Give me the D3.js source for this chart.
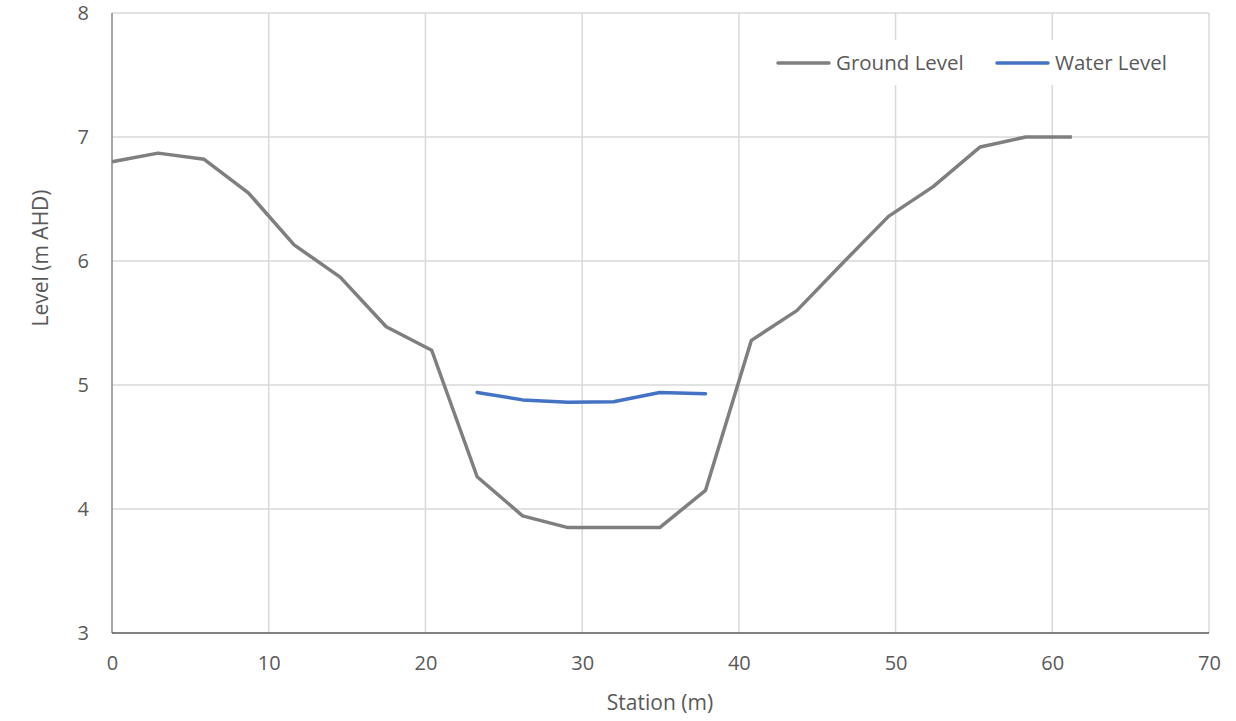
<!DOCTYPE html>
<html>
<head>
<meta charset="utf-8">
<script src="https://cdn.jsdelivr.net/npm/d3@7"></script>
<style>
  html, body { margin: 0; padding: 0; background: #fff; }
  svg text { font-family: "Open Sans", "Noto Sans", sans-serif; fill: #595959; }
</style>
</head>
<body>
<svg id="chart" width="1236" height="721"></svg>
<script>
// Cross-section survey: station along section (m) vs level (m AHD)
const groundStation = [0, 2.94, 5.88, 8.7, 11.62, 14.56, 17.5, 20.4, 23.3, 26.2, 29.1, 32.0, 34.95, 37.87, 40.8, 43.7, 46.6, 49.55, 52.4, 55.4, 58.3, 61.25];
const groundLevel   = [6.80, 6.87, 6.82, 6.55, 6.13, 5.87, 5.47, 5.28, 4.26, 3.945, 3.85, 3.85, 3.85, 4.15, 5.36, 5.60, 5.98, 6.36, 6.60, 6.92, 7.00, 7.00];
const waterStation  = [23.3, 26.2, 29.1, 32.0, 34.95, 37.87];
const waterLevel    = [4.94, 4.88, 4.86, 4.865, 4.94, 4.93];
const xTicks = [0, 10, 20, 30, 40, 50, 60, 70];
const yTicks = [3, 4, 5, 6, 7, 8];
const seriesNames = ["Ground Level", "Water Level"];
const seriesColors = ["#7f7f7f", "#4472c4"];

const svg = d3.select("#chart");
const plot = { left: 112, right: 1209, top: 13, bottom: 633 };

const x = d3.scaleLinear().domain([0, 70]).range([plot.left, plot.right]);
const y = d3.scaleLinear().domain([3, 8]).range([plot.bottom, plot.top]);

// gridlines
const grid = svg.append("g");
grid.selectAll("line.v").data(xTicks.filter(d => d > 0)).join("line")
  .attr("x1", d => x(d)).attr("x2", d => x(d))
  .attr("y1", plot.top).attr("y2", plot.bottom)
  .attr("stroke", "#d9d9d9").attr("stroke-width", 1.5);
grid.selectAll("line.h").data(yTicks.filter(d => d > 3)).join("line")
  .attr("x1", plot.left).attr("x2", plot.right)
  .attr("y1", d => y(d)).attr("y2", d => y(d))
  .attr("stroke", "#d9d9d9").attr("stroke-width", 1.5);

// axis lines
svg.append("line").attr("x1", plot.left).attr("x2", plot.left).attr("y1", plot.top).attr("y2", plot.bottom)
  .attr("stroke", "#898989").attr("stroke-width", 1.5);
svg.append("line").attr("x1", plot.left).attr("x2", plot.right).attr("y1", plot.bottom).attr("y2", plot.bottom)
  .attr("stroke", "#595959").attr("stroke-width", 1.5);

// tick labels via d3 axes
const xAxis = svg.append("g").attr("transform", `translate(0,${plot.bottom})`)
  .call(d3.axisBottom(x).tickValues(xTicks).tickSize(0).tickPadding(23).tickFormat(d3.format("d")));
const yAxis = svg.append("g").attr("transform", `translate(${plot.left},0)`)
  .call(d3.axisLeft(y).tickValues(yTicks).tickSize(0).tickPadding(23).tickFormat(d3.format("d")));
[xAxis, yAxis].forEach(g => {
  g.select(".domain").remove();
  g.selectAll("text").attr("font-size", 20).attr("fill", "#595959")
    .style("font-family", "'Open Sans', sans-serif");
});

// axis titles
svg.append("text").attr("x", 660).attr("y", 710)
  .attr("text-anchor", "middle").attr("font-size", 21).text("Station (m)");
svg.append("text").attr("transform", `translate(48,258) rotate(-90)`)
  .attr("text-anchor", "middle").attr("font-size", 21).text("Level (m AHD)");

// series lines
const line = d3.line().x(d => x(d[0])).y(d => y(d[1]));
const groundPts = groundStation.map((s, i) => [s, groundLevel[i]]);
const waterPts = waterStation.map((s, i) => [s, waterLevel[i]]);
svg.append("path").datum(groundPts).attr("d", line)
  .attr("fill", "none").attr("stroke", seriesColors[0]).attr("stroke-width", 3.5)
  .attr("stroke-linejoin", "round");
svg.append("path").datum(waterPts).attr("d", line)
  .attr("fill", "none").attr("stroke", seriesColors[1]).attr("stroke-width", 3.5)
  .attr("stroke-linejoin", "round").attr("stroke-linecap", "round");

// legend
const legend = svg.append("g");
legend.append("rect").attr("x", 770).attr("y", 40).attr("width", 410).attr("height", 45).attr("fill", "#fff");
const legendX = [778, 997];
seriesNames.forEach((name, i) => {
  legend.append("line").attr("x1", legendX[i]).attr("x2", legendX[i] + 51)
    .attr("y1", 63).attr("y2", 63)
    .attr("stroke", seriesColors[i]).attr("stroke-width", 3.5).attr("stroke-linecap", "round");
  legend.append("text").attr("x", legendX[i] + 58).attr("y", 70)
    .attr("font-size", 20.5).text(name);
});
</script>
</body>
</html>
